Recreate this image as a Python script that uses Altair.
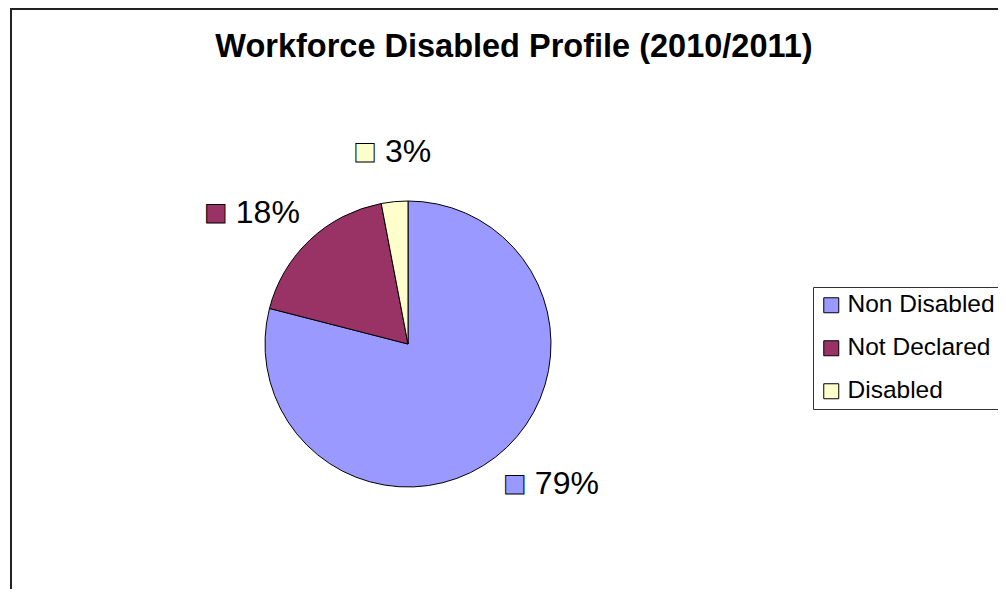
import altair as alt
import pandas as pd

title_text = "Workforce Disabled Profile (2010/2011)"
categories = ["Non Disabled", "Not Declared", "Disabled"]
values = [79, 18, 3]
labels = ["79%", "18%", "3%"]
colors = ["#9999FF", "#993366", "#FFFFCC"]

df = pd.DataFrame({
    "category": categories,
    "value": values,
    "label": labels,
    "order": list(range(len(categories))),
})

CX, CY = 400, 336
R_PIE = 143
R_LAB = 158
FONT = "Liberation Sans"
LFS = 32  # label font size

# Excel-like outside label placement: the label box is pushed outward
# from a point on the slice's mid-angle ray, depending on direction.
ANG = "(PI*(datum.value_start+datum.value_end)/datum.total)"
SGN = f"(sin({ANG})>=0?1:-1)"
SX = f"({SGN}*clamp(3*abs(sin({ANG}))-0.5,0,1))"
SY = f"clamp(-1.5*cos({ANG}),-1,1)"
UP = f"pow(max(0,cos({ANG})),12)"
TW = f"({LFS}*(0.556*(length(datum.label)-1)+0.889))"
W = f"(30+{TW})"
TEXT_DX = f"(-{W}/2+30+{SX}*{W}/2)"
SQ_DX = f"({TEXT_DX}-20)"
DY = f"({SY}*15-21*{UP})"

color_scale = alt.Scale(domain=categories, range=colors)
theta = alt.Theta("value:Q", stack=True)
order = alt.Order("order:Q", sort="ascending")

base = alt.Chart(df)

pie = base.mark_arc(radius=R_PIE, stroke="black", strokeWidth=1).encode(
    theta=theta,
    order=order,
    x=alt.value(CX),
    y=alt.value(CY),
    color=alt.Color(
        "category:N",
        scale=color_scale,
        sort=categories,
        legend=alt.Legend(
            title=None,
            orient="none",
            legendX=805,
            legendY=279,
            symbolType="square",
            symbolSize=225,
            symbolStrokeColor="black",
            symbolStrokeWidth=1,
            labelFont=FONT,
            labelFontSize=24.5,
            labelColor="black",
            labelOffset=4,
            strokeColor="#333333",
            fillColor="white",
            padding=6,
            rowPadding=18,
        ),
    ),
)

lab_text = base.transform_joinaggregate(total="sum(value)").mark_text(
    radius=R_LAB, align="left", baseline="middle",
    dx={"expr": TEXT_DX}, dy={"expr": DY},
    fontSize=LFS, font=FONT, color="black",
).encode(
    theta=theta,
    order=order,
    detail="category:N",
    x=alt.value(CX),
    y=alt.value(CY),
    text="label:N",
)

lab_sq = base.transform_joinaggregate(total="sum(value)").mark_text(
    radius=R_LAB, align="center", baseline="middle",
    dx={"expr": SQ_DX}, dy={"expr": DY},
    fontSize=24, font="DejaVu Sans", stroke="black", strokeWidth=1,
).encode(
    theta=theta,
    order=order,
    x=alt.value(CX),
    y=alt.value(CY),
    color=alt.Color("category:N", scale=color_scale, legend=None),
    text=alt.value("\u25a0"),
)

title = alt.Chart(pd.DataFrame({"t": [title_text]})).mark_text(
    fontSize=32.5, fontWeight="bold", font=FONT, color="black",
    align="center", baseline="alphabetic",
).encode(x=alt.value(506), y=alt.value(49), text="t:N")

border = alt.Chart(pd.DataFrame({"a": [0]})).mark_rect(
    fill="white", fillOpacity=0, stroke="#222222", strokeWidth=2,
).encode(x=alt.value(3), x2=alt.value(1200), y=alt.value(1), y2=alt.value(900))

chart = alt.layer(border, pie, lab_sq, lab_text, title).properties(
    width=990, height=581, autosize=alt.AutoSizeParams(type="none"), padding=0,
).configure_view(strokeWidth=0)

chart.save("out.html", embed_options={"renderer": "svg", "actions": False})
